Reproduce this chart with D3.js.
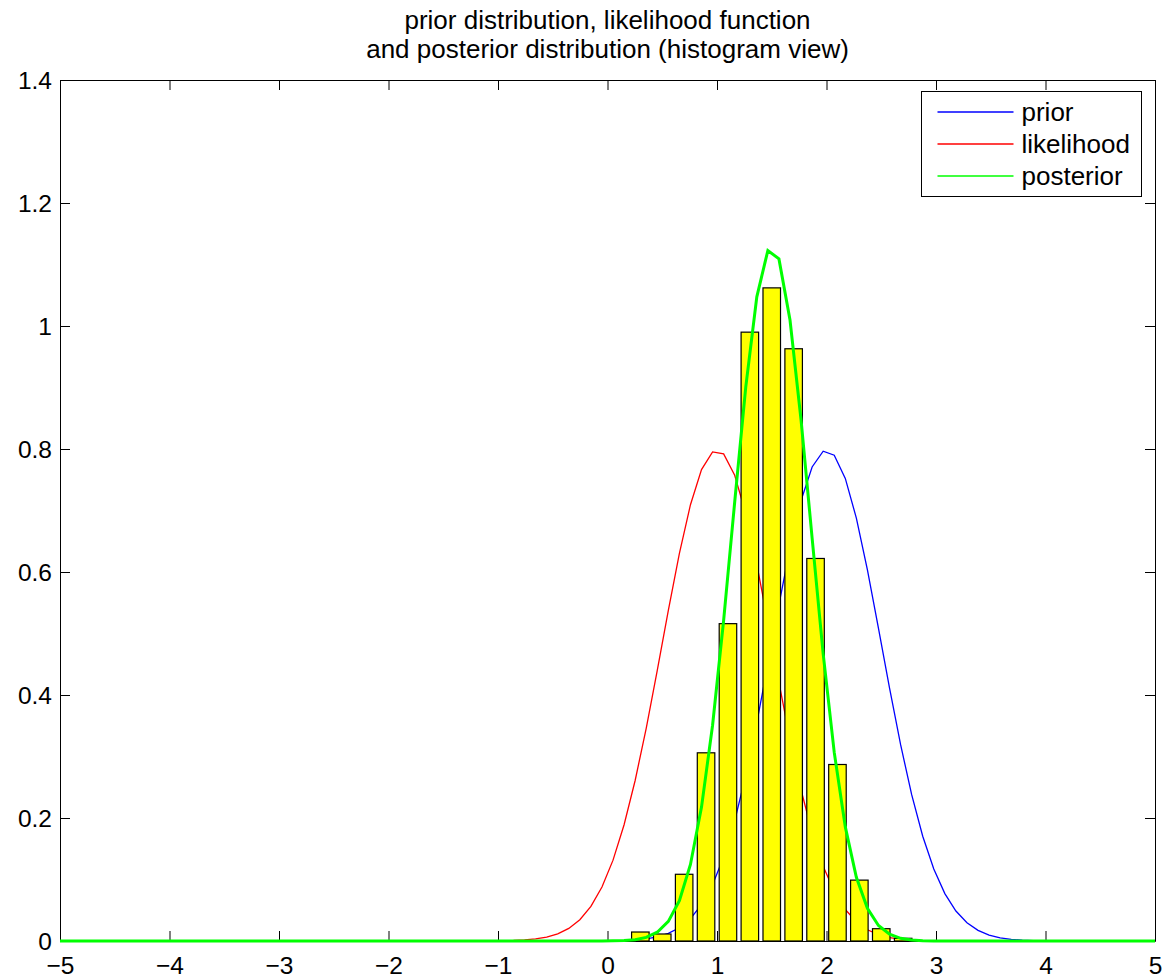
<!DOCTYPE html>
<html>
<head>
<meta charset="utf-8">
<script src="https://cdn.jsdelivr.net/npm/d3@7"></script>
<style>
  body { margin: 0; background: #fff; }
  text { font-family: "Liberation Sans", Arial, sans-serif; fill: #000; }
</style>
</head>
<body>
<div id="vis"></div>
<script>
// sample positions of the curves (x axis)
const xs = [-5,
  -1.1616, -1.0606, -0.9596, -0.8586, -0.7576, -0.6566, -0.5556, -0.4545, -0.3535, -0.2525,
  -0.1515, -0.0505, 0.0505, 0.1515, 0.2525, 0.3535, 0.4545, 0.5556, 0.6566, 0.7576,
  0.8586, 0.9596, 1.0606, 1.1616, 1.2626, 1.3636, 1.4646, 1.5657, 1.6667, 1.7677,
  1.8687, 1.9697, 2.0707, 2.1717, 2.2727, 2.3737, 2.4747, 2.5758, 2.6768, 2.7778,
  2.8788, 2.9798, 3.0808, 3.1818, 3.2828, 3.3838, 3.4848, 3.5859, 3.6869, 3.7879,
  3.8889, 3.9899, 4.0909,
  5];

// curve values, one per x above
const prior = [0,
  0, 0, 0, 0, 0, 0, 0, 0, 0, 0,
  0.0001, 0.0002, 0.0004, 0.0009, 0.0018, 0.0035, 0.0067, 0.0123, 0.0216, 0.0364,
  0.0589, 0.0916, 0.1366, 0.1956, 0.2690, 0.3550, 0.4498, 0.5471, 0.6389, 0.7162,
  0.7708, 0.7964, 0.7899, 0.7522, 0.6876, 0.6034, 0.5084, 0.4112, 0.3192, 0.2380,
  0.1703, 0.1170, 0.0771, 0.0488, 0.0297, 0.0173, 0.0097, 0.0052, 0.0027, 0.0013,
  0.0006, 0.0003, 0.0001,
  0];

const likelihood = [0,
  0.0001, 0.0002, 0.0004, 0.0008, 0.0017, 0.0033, 0.0063, 0.0116, 0.0205, 0.0346,
  0.0563, 0.0878, 0.1315, 0.1891, 0.2610, 0.3459, 0.4401, 0.5375, 0.6302, 0.7094,
  0.7666, 0.7953, 0.7920, 0.7573, 0.6951, 0.6124, 0.5181, 0.4207, 0.3280, 0.2455,
  0.1764, 0.1217, 0.0806, 0.0512, 0.0313, 0.0183, 0.0103, 0.0056, 0.0029, 0.0014,
  0.0007, 0.0003, 0.0001, 0, 0, 0, 0, 0, 0, 0,
  0, 0, 0,
  0];

const posterior = [0,
  0, 0, 0, 0, 0, 0, 0, 0, 0, 0,
  0, 0, 0.0003, 0.0008, 0.0022, 0.0059, 0.0143, 0.0318, 0.0656, 0.1244,
  0.2177, 0.3509, 0.5213, 0.7138, 0.9007, 1.0475, 1.1228, 1.1091, 1.0097, 0.8472,
  0.6551, 0.4669, 0.3067, 0.1856, 0.1036, 0.0532, 0.0252, 0.0110, 0.0044, 0.0017,
  0.0006, 0.0002, 0, 0, 0, 0, 0, 0, 0, 0,
  0, 0, 0,
  0];

// histogram bins
const binCenters = [0.3, 0.5, 0.7, 0.9, 1.1, 1.3, 1.5, 1.7, 1.9, 2.1, 2.3, 2.5, 2.7];
const binHeights = [0.0146, 0.0114, 0.1085, 0.306, 0.516, 0.990, 1.062, 0.963, 0.622, 0.287, 0.099, 0.020, 0.0044];
const binWidth = 0.16;

const xTicks = [-5, -4, -3, -2, -1, 0, 1, 2, 3, 4, 5];
const yTicks = [0, 0.2, 0.4, 0.6, 0.8, 1, 1.2, 1.4];

const titleLines = ["prior distribution, likelihood function", "and posterior distribution (histogram view)"];
const legendNames = ["prior", "likelihood", "posterior"];
const legendColors = ["#0000ff", "#ff0000", "#00ff00"];

// size and plot box
const W = 1165, H = 979;
const box = {left: 60, right: 1155, top: 80, bottom: 941};

const svg = d3.select("#vis").append("svg")
    .attr("width", W)
    .attr("height", H);

const x = d3.scaleLinear().domain([-5, 5]).range([box.left, box.right]);
const y = d3.scaleLinear().domain([0, 1.4]).range([box.bottom, box.top]);

// title
svg.selectAll(".title")
    .data(titleLines)
  .enter().append("text")
    .attr("class", "title")
    .attr("x", (box.left + box.right) / 2)
    .attr("y", (d, i) => 29 + i * 29)
    .attr("text-anchor", "middle")
    .style("font-size", "26px")
    .text(d => d);

// axes, ticks pointing inward
const tickFont = "24.5px";

const gx = svg.append("g")
    .attr("transform", "translate(0," + box.bottom + ")")
    .call(d3.axisBottom(x).tickValues(xTicks).tickSize(-10).tickSizeOuter(0).tickFormat(d3.format("d")));
gx.selectAll("text").attr("y", 33).attr("dy", 0).style("font-size", tickFont);

svg.append("g")
    .attr("transform", "translate(0," + box.top + ")")
    .call(d3.axisTop(x).tickValues(xTicks).tickSize(-10).tickSizeOuter(0).tickFormat(""));

const gy = svg.append("g")
    .attr("transform", "translate(" + box.left + ",0)")
    .call(d3.axisLeft(y).tickValues(yTicks).tickSize(-10).tickSizeOuter(0).tickPadding(8).tickFormat(d3.format("")));
gy.selectAll("text").style("font-size", tickFont).attr("dy", "0.36em");

svg.append("g")
    .attr("transform", "translate(" + box.right + ",0)")
    .call(d3.axisRight(y).tickValues(yTicks).tickSize(-10).tickSizeOuter(0).tickFormat(""));

svg.selectAll(".domain, .tick line").attr("stroke", "#000").attr("stroke-width", 1);

// curves
const line = values => d3.line()
    .x((d, i) => x(xs[i]))
    .y(d => y(d))(values);

svg.append("path")
    .attr("d", line(prior))
    .attr("fill", "none")
    .attr("stroke", legendColors[0])
    .attr("stroke-width", 1.3);

svg.append("path")
    .attr("d", line(likelihood))
    .attr("fill", "none")
    .attr("stroke", legendColors[1])
    .attr("stroke-width", 1.3);

// histogram bars
svg.selectAll(".bar")
    .data(binCenters)
  .enter().append("rect")
    .attr("class", "bar")
    .attr("x", d => x(d - binWidth / 2))
    .attr("width", d => x(d + binWidth / 2) - x(d - binWidth / 2))
    .attr("y", (d, i) => y(binHeights[i]))
    .attr("height", (d, i) => y(0) - y(binHeights[i]))
    .attr("fill", "#ffff00")
    .attr("stroke", "#000")
    .attr("stroke-width", 1.2);

svg.append("path")
    .attr("d", line(posterior))
    .attr("fill", "none")
    .attr("stroke", legendColors[2])
    .attr("stroke-width", 3);

// legend
const legend = svg.append("g").attr("transform", "translate(921.5,91.5)");
legend.append("rect")
    .attr("width", 220)
    .attr("height", 105)
    .attr("fill", "#fff")
    .attr("stroke", "#000")
    .attr("stroke-width", 1);

const items = legend.selectAll(".item")
    .data(legendNames)
  .enter().append("g")
    .attr("class", "item")
    .attr("transform", (d, i) => "translate(0," + (20.5 + i * 32) + ")");

items.append("line")
    .attr("x1", 16)
    .attr("x2", 92)
    .attr("stroke", (d, i) => legendColors[i])
    .attr("stroke-width", 1.3);

items.append("text")
    .attr("x", 100)
    .attr("dy", "0.33em")
    .style("font-size", "26px")
    .text(d => d);
</script>
</body>
</html>
